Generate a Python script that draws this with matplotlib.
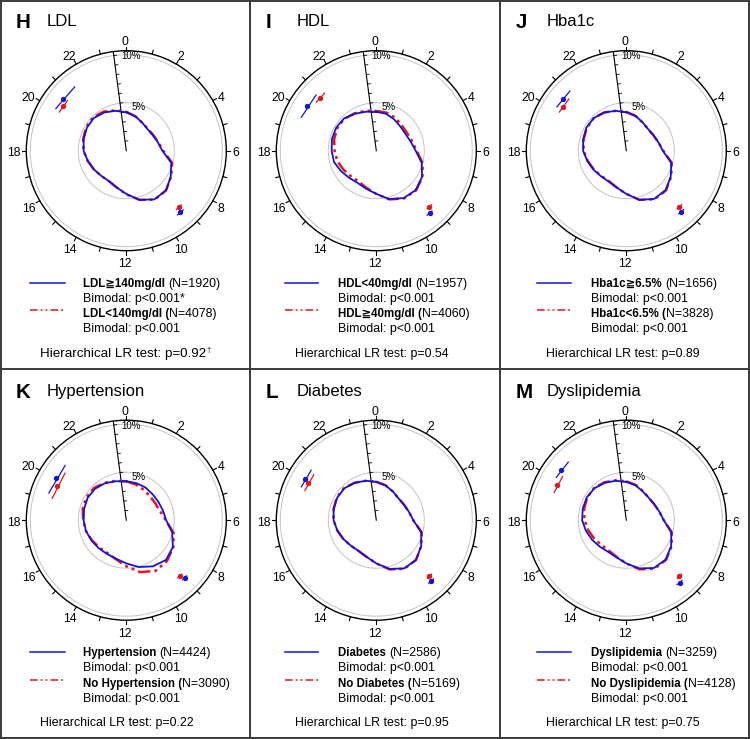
import numpy as np
import matplotlib
matplotlib.use('Agg')
import matplotlib.pyplot as plt
from matplotlib.lines import Line2D

plt.rcParams['font.family'] = ['Liberation Sans', 'DejaVu Sans']

# ---------------- data ----------------
hours = list(range(24))
hour_labels = [str(h) for h in range(0, 24, 2)]

letters = ['H', 'I', 'J', 'K', 'L', 'M']
titles = ['LDL', 'HDL', 'Hba1c', 'Hypertension', 'Diabetes', 'Dyslipidemia']
group1 = ['LDL≧140mg/dl', 'HDL<40mg/dl', 'Hba1c≧6.5%', 'Hypertension', 'Diabetes', 'Dyslipidemia']
group2 = ['LDL<140mg/dl', 'HDL≧40mg/dl', 'Hba1c<6.5%', 'No Hypertension', 'No Diabetes', 'No Dyslipidemia']
n1 = [1920, 1957, 1656, 4424, 2586, 3259]
n2 = [4078, 4060, 3828, 3090, 5169, 4128]
bimodal1 = ['p<0.001*', 'p<0.001', 'p<0.001', 'p<0.001', 'p<0.001', 'p<0.001']
bimodal2 = ['p<0.001', 'p<0.001', 'p<0.001', 'p<0.001', 'p<0.001', 'p<0.001']
lr_p = ['0.92', '0.54', '0.89', '0.22', '0.95', '0.75']
lr_mark = ['†', '', '', '', '', '']

# hourly density (%) for hour 0..23
H_blue = [4.0, 3.7, 3.35, 3.15, 3.2, 3.4, 3.75, 4.85, 5.35, 5.85, 5.85, 5.3,
          4.5, 3.95, 3.65, 3.7, 3.9, 4.15, 4.45, 4.6, 4.75, 4.8, 4.6, 4.3]
H_red = [4.05, 3.7, 3.35, 3.2, 3.25, 3.45, 3.85, 4.95, 5.4, 5.85, 5.9, 5.3,
         4.55, 3.95, 3.65, 3.7, 3.9, 4.15, 4.45, 4.65, 4.85, 4.9, 4.7, 4.35]
I_blue = [4.05, 3.98, 3.75, 3.55, 3.5, 3.7, 4.1, 4.9, 5.5, 5.8, 5.7, 5.22,
          4.5, 4.1, 3.88, 4.0, 4.25, 4.56, 4.65, 4.78, 4.82, 4.75, 4.45, 4.2]
I_red = [4.15, 4.1, 3.95, 3.75, 3.7, 3.85, 4.2, 5.0, 5.55, 5.85, 5.75, 5.25,
         4.5, 4.0, 3.7, 3.75, 3.95, 4.2, 4.35, 4.55, 4.7, 4.7, 4.5, 4.3]
J_blue = [4.0, 3.75, 3.4, 3.2, 3.25, 3.45, 3.8, 4.85, 5.35, 5.8, 5.8, 5.3,
          4.5, 3.95, 3.7, 3.75, 3.95, 4.2, 4.5, 4.65, 4.8, 4.8, 4.6, 4.3]
J_red = [4.05, 3.75, 3.4, 3.2, 3.25, 3.45, 3.85, 4.9, 5.4, 5.85, 5.85, 5.3,
         4.5, 3.95, 3.65, 3.7, 3.9, 4.15, 4.45, 4.6, 4.75, 4.8, 4.6, 4.3]
K_blue = [4.05, 4.0, 3.95, 3.85, 3.85, 3.95, 4.15, 4.95, 5.6, 5.85, 5.55, 5.05,
          4.5, 4.15, 4.05, 4.1, 4.2, 4.35, 4.45, 4.55, 4.65, 4.62, 4.45, 4.2]
K_red = [4.05, 3.85, 3.65, 3.5, 3.5, 3.65, 4.1, 5.1, 5.65, 6.0, 6.1, 5.6,
         4.8, 4.2, 3.95, 4.0, 4.15, 4.35, 4.5, 4.7, 4.8, 4.75, 4.5, 4.25]
L_blue = [4.0, 3.75, 3.45, 3.25, 3.3, 3.5, 3.85, 4.85, 5.4, 5.85, 5.8, 5.25,
          4.5, 3.95, 3.7, 3.75, 3.95, 4.2, 4.45, 4.6, 4.7, 4.7, 4.5, 4.25]
L_red = [4.0, 3.75, 3.45, 3.25, 3.3, 3.5, 3.85, 4.9, 5.4, 5.85, 5.85, 5.3,
         4.5, 3.95, 3.7, 3.75, 3.95, 4.2, 4.45, 4.6, 4.75, 4.75, 4.5, 4.25]
M_blue = [4.0, 3.75, 3.45, 3.3, 3.35, 3.55, 3.9, 4.85, 5.4, 5.8, 5.75, 5.2,
          4.5, 4.0, 3.8, 3.9, 4.1, 4.35, 4.6, 4.7, 4.75, 4.7, 4.5, 4.25]
M_red = [4.05, 3.8, 3.5, 3.3, 3.35, 3.55, 3.9, 4.9, 5.45, 5.85, 5.85, 5.3,
         4.5, 3.95, 3.65, 3.65, 3.85, 4.1, 4.35, 4.55, 4.7, 4.75, 4.55, 4.3]
blue_series = [H_blue, I_blue, J_blue, K_blue, L_blue, M_blue]
red_series = [H_red, I_red, J_red, K_red, L_red, M_red]

# peak times (hours) with confidence bounds: [evening, morning]
blue_peak = [[20.6, 9.25], [20.2, 9.3], [20.6, 9.2], [20.05, 8.97], [20.0, 9.2], [20.5, 9.3]]
blue_lo = [[20.06, 9.08], [19.6, 9.15], [20.15, 9.05], [19.29, 8.85], [19.6, 9.05], [20.1, 9.15]]
blue_hi = [[21.4, 9.43], [20.85, 9.45], [21.1, 9.35], [20.79, 9.1], [20.5, 9.35], [21.0, 9.45]]
red_peak = [[20.36, 9.15], [20.9, 9.1], [20.3, 9.1], [19.75, 9.09], [19.9, 9.1], [19.8, 9.1]]
red_lo = [[20.0, 8.97], [20.6, 8.95], [20.0, 8.95], [19.1, 8.95], [19.5, 8.95], [19.4, 8.95]]
red_hi = [[20.7, 9.31], [21.2, 9.25], [20.8, 9.25], [20.5, 9.22], [20.4, 9.25], [20.3, 9.25]]

# ---------------- drawing ----------------
W, Hh = 750, 739
DPI = 100
fig = plt.figure(figsize=(W / DPI, Hh / DPI), dpi=DPI)
renderer = fig.canvas.get_renderer()

BLUE = '#1414d8'
RED = '#e8141a'
RPX = 100.0          # outer circle radius in px
PX_PER_PCT = 9.6
RMAX = RPX / PX_PER_PCT
RED_LS = (0, (5, 1.6, 1.2, 1.6, 1.2, 1.6))
FS = 8.9      # regular legend text
FSB = 8.3     # bold legend text
LR_FS = [9.6, 8.9, 8.9, 8.9, 8.9, 8.9]


def fx(x):
    return x / W


def fy(y):
    return 1 - y / Hh


def h2t(h):
    return np.asarray(h, dtype=float) / 24.0 * 2 * np.pi


col_line = [(30, 65, 83), (35, 68, 88), (37, 71, 91)]
col_lr = [40, 45, 45.7]

for i in range(6):
    col, row = i % 3, i // 3
    x0, y0 = col * 250.0, row * 369.5
    cx, cy = x0 + 126.3, y0 + 150.7

    # title
    fig.text(fx(x0 + 16), fy(y0 + 28.3), letters[i], fontsize=14.8, fontweight='bold', va='baseline')
    fig.text(fx(x0 + 46.7), fy(y0 + 26.3), titles[i], fontsize=12.0, va='baseline')

    ax = fig.add_axes([fx(cx - RPX), fy(cy + RPX), 2 * RPX / W, 2 * RPX / Hh], projection='polar')
    ax.set_theta_zero_location('N')
    ax.set_theta_direction(-1)
    ax.set_ylim(0, RMAX)
    ax.set_xticks([])
    ax.set_yticks([])
    ax.grid(False)
    ax.patch.set_alpha(0)
    ax.spines['polar'].set_linewidth(1.0)
    ax.spines['polar'].set_color('black')

    # gray reference circles
    full = np.linspace(0, 2 * np.pi, 200)
    for rr in (5, 10):
        ax.plot(full, np.full_like(full, rr), color='#c4c4c4', lw=0.7, zorder=1)

    # hour ticks and labels
    for h in hours:
        ax.plot([h2t(h), h2t(h)], [RMAX, RMAX + 0.42], color='black', lw=0.8, clip_on=False)
    for lab in hour_labels:
        ax.annotate(lab, xy=(h2t(int(lab)), 11.57), xytext=(-1.0, -1.9), textcoords='offset points',
                    ha='center', va='center', fontsize=8.8, annotation_clip=False)

    # radial axis at 23.5h
    th_ax = h2t(23.5)
    ax.plot([th_ax, th_ax], [0, RMAX], color='black', lw=0.8, zorder=2)
    phi = float(th_ax)
    for k in range(1, 11):
        px, py = k * np.sin(phi), k * np.cos(phi)
        tx, ty = np.cos(phi) * 0.3, -np.sin(phi) * 0.3
        ex = [px, px + tx]
        ey = [py, py + ty]
        ax.plot(np.arctan2(ex, ey), np.hypot(ex, ey), color='black', lw=0.6, zorder=2)
    ax.text(np.deg2rad(15.5), 4.69, '5%', fontsize=7, ha='center', va='center')
    ax.text(np.deg2rad(3.0), 9.85, '10%', fontsize=7, ha='center', va='center')

    # curves
    th = h2t(hours + [24])
    rb = list(blue_series[i]) + [blue_series[i][0]]
    rr_ = list(red_series[i]) + [red_series[i][0]]
    ax.plot(th, rr_, color=RED, lw=1.8, ls=RED_LS, zorder=3)
    ax.plot(th, rb, color=BLUE, lw=1.3, zorder=4)

    # peak markers with confidence arcs
    for j in range(2):
        ax.plot(h2t([blue_lo[i][j], blue_hi[i][j]]), [8.55, 8.55], color=BLUE, lw=0.9, zorder=4)
        ax.plot(h2t(blue_peak[i][j]), 8.55, 'o', color=BLUE, ms=2.8, zorder=5)
        ax.plot(h2t([red_lo[i][j], red_hi[i][j]]), [8.05, 8.05], color=RED, lw=0.9, zorder=4)
        ax.plot(h2t(red_peak[i][j]), 8.05, 'o', color=RED, ms=2.8, zorder=5)

    # legend
    lx0, lx1, tx0 = col_line[col]
    fig.add_artist(Line2D([fx(x0 + lx0), fx(x0 + lx1)], [fy(y0 + 282.7)] * 2, color=BLUE, lw=1.1))
    fig.add_artist(Line2D([fx(x0 + lx0), fx(x0 + lx1)], [fy(y0 + 310)] * 2, color=RED, lw=1.1,
                          ls=(0, (5, 2, 1.2, 2, 1.2, 2))))
    t1 = fig.text(fx(x0 + tx0), fy(y0 + 286.7), group1[i] + ' ', fontsize=FSB, fontweight='bold', va='baseline')
    bb = t1.get_window_extent(renderer)
    fig.text(bb.x1 / W, fy(y0 + 286.7), '(N=%d)' % n1[i], fontsize=FS, va='baseline')
    fig.text(fx(x0 + tx0), fy(y0 + 302), 'Bimodal: ' + bimodal1[i], fontsize=FS, va='baseline')
    t2 = fig.text(fx(x0 + tx0), fy(y0 + 317.3), group2[i] + ' (', fontsize=FSB, fontweight='bold', va='baseline')
    bb = t2.get_window_extent(renderer)
    fig.text(bb.x1 / W, fy(y0 + 317.3), 'N=%d)' % n2[i], fontsize=FS, va='baseline')
    fig.text(fx(x0 + tx0), fy(y0 + 332.3), 'Bimodal: ' + bimodal2[i], fontsize=FS, va='baseline')

    t3 = fig.text(fx(x0 + col_lr[col]), fy(y0 + 356.7), 'Hierarchical LR test: p=' + lr_p[i],
                  fontsize=LR_FS[i], va='baseline')
    if lr_mark[i]:
        bb = t3.get_window_extent(renderer)
        fig.text(bb.x1 / W + 0.001, fy(y0 + 352.0), lr_mark[i], fontsize=5.5, va='baseline')

# panel frames
FC = '#3a3a3a'
for xv in (0.8, 249.5, 499.5, 749.2):
    fig.add_artist(Line2D([fx(xv)] * 2, [0, 1], color=FC, lw=1.4))
for yv in (0.5, 369.2, 738.3):
    fig.add_artist(Line2D([0, 1], [fy(yv)] * 2, color=FC, lw=1.4))

fig.savefig('out.png', dpi=DPI)
